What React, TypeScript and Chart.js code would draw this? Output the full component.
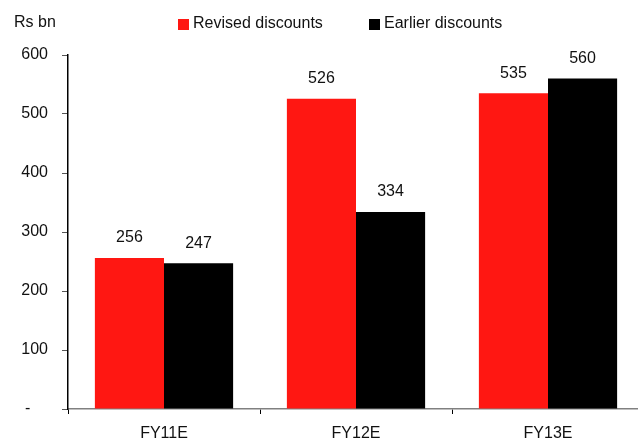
import React, { useEffect, useRef } from "react";
import { Chart, registerables } from "chart.js";

Chart.register(...registerables);

const categories = ["FY11E", "FY12E", "FY13E"];
const revisedDiscounts = [256, 526, 535];
const earlierDiscounts = [247, 334, 560];
const yTicks = [0, 100, 200, 300, 400, 500, 600];
const unitLabel = "Rs bn";
const seriesNames = ["Revised discounts", "Earlier discounts"];
const seriesColors = ["#FF1712", "#000000"];

const FONT = "'Liberation Sans', Arial, sans-serif";

const overlay = {
  id: "overlay",
  afterDraw(chart: any) {
    const ctx = chart.ctx;
    ctx.save();
    ctx.font = `16px ${FONT}`;
    ctx.fillStyle = "#111";
    ctx.textBaseline = "middle";
    // unit caption
    ctx.textAlign = "left";
    ctx.fillText(unitLabel, 14, 23);
    // legend
    const legendX = [178, 369];
    seriesNames.forEach((name, i) => {
      ctx.fillStyle = seriesColors[i];
      ctx.fillRect(legendX[i], 19, 11, 11);
      ctx.fillStyle = "#111";
      ctx.fillText(name, legendX[i] + 15, 24);
    });
    // value labels
    ctx.textAlign = "center";
    chart.data.datasets.forEach((ds: any, di: number) => {
      const meta = chart.getDatasetMeta(di);
      meta.data.forEach((bar: any, i: number) => {
        ctx.fillText(String(ds.data[i]), bar.x, bar.y - 20);
      });
    });
    ctx.restore();
  },
};

export default function App() {
  const ref = useRef<HTMLCanvasElement>(null);
  useEffect(() => {
    if (!ref.current) return;
    const chart = new Chart(ref.current, {
      type: "bar",
      data: {
        labels: categories,
        datasets: [
          { label: seriesNames[0], data: revisedDiscounts, backgroundColor: seriesColors[0] },
          { label: seriesNames[1], data: earlierDiscounts, backgroundColor: seriesColors[1] },
        ],
      },
      options: {
        responsive: false,
        animation: false,
        events: [],
        layout: { padding: { top: 55, right: 2, left: 0, bottom: 0 } },
        datasets: { bar: { categoryPercentage: 0.72, barPercentage: 1.0 } },
        plugins: { legend: { display: false }, tooltip: { enabled: false }, title: { display: false } },
        scales: {
          x: {
            grid: { offset: true, drawOnChartArea: false, tickLength: 5, tickColor: "#000", lineWidth: 1 },
            border: { color: "#808080", width: 1.5 },
            ticks: { color: "#111", font: { family: FONT, size: 16 }, padding: 10 },
            afterFit(scale: any) { scale.height = 32; },
          },
          y: {
            min: 0,
            max: 600,
            afterBuildTicks(scale: any) { scale.ticks = yTicks.map((v) => ({ value: v })); },
            grid: { drawOnChartArea: false, tickLength: 6, tickColor: "#555" },
            border: { color: "#000", width: 1.5 },
            ticks: {
              color: "#111",
              font: { family: FONT, size: 16 },
              padding: 14,
              callback: (v: any) => (v === 0 ? "-    " : String(v)),
            },
            afterFit(scale: any) { scale.width = 68; },
          },
        },
      },
      plugins: [overlay],
    });
    return () => chart.destroy();
  }, []);
  return (
    <div style={{ position: "fixed", left: 0, top: 0, width: 638, height: 441, overflow: "hidden", background: "#fff" }}>
      <canvas ref={ref} width={646} height={441} />
    </div>
  );
}
